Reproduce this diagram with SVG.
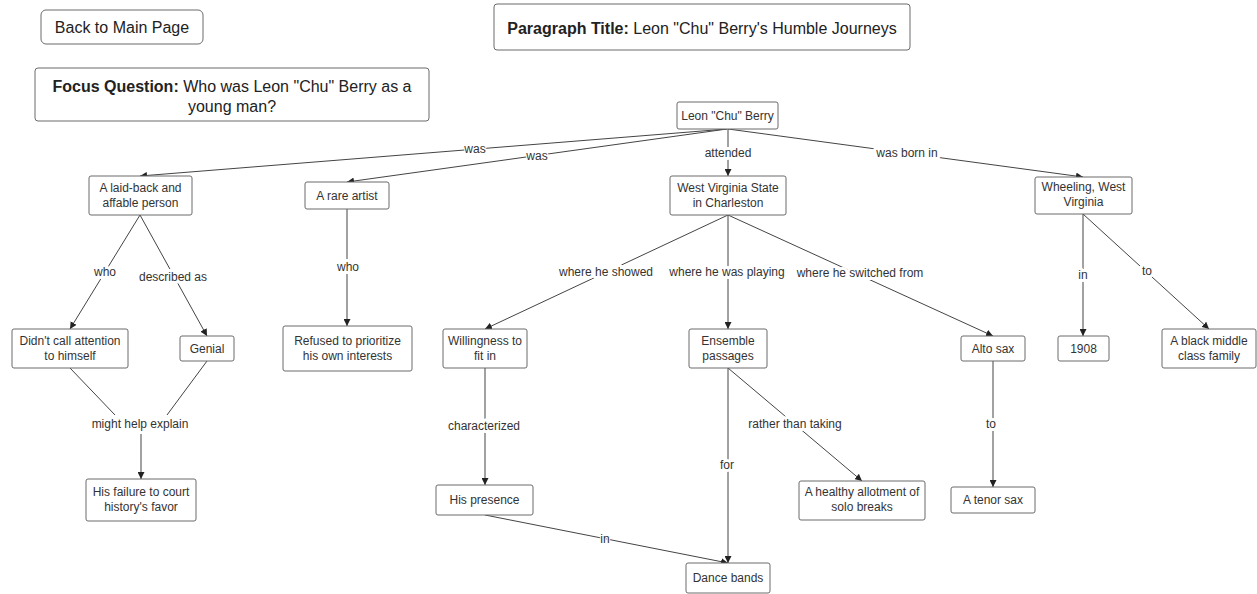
<svg xmlns="http://www.w3.org/2000/svg" width="1257" height="594" viewBox="0 0 1257 594">
  <style>
    .box { fill: #ffffff; stroke: #6b6b6b; stroke-width: 1; }
    .hdr { fill: #ffffff; stroke: #6b6b6b; stroke-width: 1; }
    .t { font-family: "Liberation Sans", Arial, sans-serif; font-size: 12px; fill: #333333; text-anchor: middle; }
    .h { font-family: "Liberation Sans", Arial, sans-serif; font-size: 16px; fill: #222222; text-anchor: middle; }
    .b { font-weight: bold; }
    .edge { fill: none; stroke: #444444; stroke-width: 1; }
    .arrow { fill: none; stroke: #444444; stroke-width: 1; marker-end: url(#head); }
    .lbl { font-family: "Liberation Sans", Arial, sans-serif; font-size: 12px; fill: #333333; text-anchor: middle;
           stroke: #ffffff; stroke-width: 6px; stroke-linejoin: round; paint-order: stroke; }
    .lbl-tight { stroke-width: 2px; }
  </style>
  <defs>
    <marker id="head" viewBox="0 0 8 8" refX="8" refY="4" markerWidth="7" markerHeight="7" markerUnits="userSpaceOnUse" orient="auto">
      <path d="M0,0 L8,4 L0,8 z" fill="#222222"/>
    </marker>
  </defs>

  <rect width="1257" height="594" fill="#ffffff"/>

  <!-- header panels -->
  <g id="back-link">
    <rect class="hdr" x="41" y="10" width="162" height="34" rx="5"/>
    <text class="h" x="122" y="33">Back to Main Page</text>
  </g>
  <g id="focus-question">
    <rect class="hdr" x="35" y="68" width="394" height="53" rx="3"/>
    <text class="h" x="232" y="92"><tspan class="b">Focus Question:</tspan> Who was Leon "Chu" Berry as a</text>
    <text class="h" x="232" y="112">young man?</text>
  </g>
  <g id="paragraph-title">
    <rect class="hdr" x="494" y="4" width="416" height="46" rx="3"/>
    <text class="h" x="702" y="34"><tspan class="b">Paragraph Title:</tspan> Leon "Chu" Berry's Humble Journeys</text>
  </g>

  <!-- connectors -->
  <g id="connectors">
    <line class="arrow" x1="727" y1="129" x2="140" y2="176"/>
    <line class="arrow" x1="727" y1="129" x2="347" y2="182"/>
    <line class="arrow" x1="728" y1="129" x2="728" y2="176"/>
    <line class="arrow" x1="728" y1="129" x2="1083" y2="177"/>

    <line class="arrow" x1="728" y1="215" x2="485" y2="329"/>
    <line class="arrow" x1="728" y1="215" x2="728" y2="329"/>
    <line class="arrow" x1="728" y1="215" x2="993" y2="336"/>

    <line class="arrow" x1="1083" y1="214" x2="1083" y2="336"/>
    <line class="arrow" x1="1083" y1="214" x2="1209" y2="329"/>

    <line class="arrow" x1="140" y1="215" x2="70" y2="329"/>
    <line class="arrow" x1="140" y1="215" x2="207" y2="336"/>
    <line class="arrow" x1="347" y1="209" x2="347" y2="326"/>

    <line class="edge" x1="70" y1="368" x2="115" y2="415"/>
    <line class="edge" x1="207" y1="361" x2="167" y2="415"/>
    <line class="arrow" x1="141" y1="434" x2="141" y2="479"/>

    <line class="arrow" x1="485" y1="368" x2="485" y2="485"/>
    <line class="arrow" x1="485" y1="515" x2="728" y2="563"/>
    <line class="arrow" x1="728" y1="368" x2="728" y2="563"/>
    <line class="arrow" x1="728" y1="368" x2="862" y2="481"/>
    <line class="arrow" x1="993" y1="361" x2="993" y2="487"/>

    <!-- linking phrases -->
    <text class="lbl lbl-tight" x="475" y="153">was</text>
    <text class="lbl lbl-tight" x="537" y="160">was</text>
    <text class="lbl" x="728" y="157">attended</text>
    <text class="lbl" x="907" y="157">was born in</text>
    <text class="lbl" x="606" y="276">where he showed</text>
    <text class="lbl" x="727" y="276">where he was playing</text>
    <text class="lbl" x="860" y="277">where he switched from</text>
    <text class="lbl" x="1083" y="279">in</text>
    <text class="lbl" x="1147" y="275">to</text>
    <text class="lbl" x="105" y="276">who</text>
    <text class="lbl" x="173" y="281">described as</text>
    <text class="lbl" x="348" y="271">who</text>
    <text class="lbl" x="140" y="428">might help explain</text>
    <text class="lbl" x="484" y="430">characterized</text>
    <text class="lbl lbl-tight" x="605" y="543">in</text>
    <text class="lbl" x="727" y="469">for</text>
    <text class="lbl" x="795" y="428">rather than taking</text>
    <text class="lbl" x="991" y="428">to</text>
  </g>

  <!-- concept nodes -->
  <g id="leon">
    <rect class="box" x="677" y="102" width="101" height="27" rx="2"/>
    <text class="t" x="727.5" y="120">Leon "Chu" Berry</text>
  </g>
  <g id="laid-back">
    <rect class="box" x="89" y="176" width="103" height="39" rx="2"/>
    <text class="t" x="140.5" y="192">A laid-back and</text>
    <text class="t" x="140.5" y="207">affable person</text>
  </g>
  <g id="rare-artist">
    <rect class="box" x="305" y="182" width="84" height="27" rx="2"/>
    <text class="t" x="347" y="200">A rare artist</text>
  </g>
  <g id="wv-state">
    <rect class="box" x="670" y="176" width="116" height="39" rx="2"/>
    <text class="t" x="728" y="192">West Virginia State</text>
    <text class="t" x="728" y="207">in Charleston</text>
  </g>
  <g id="wheeling">
    <rect class="box" x="1035" y="177" width="97" height="37" rx="2"/>
    <text class="t" x="1083.5" y="191">Wheeling, West</text>
    <text class="t" x="1083.5" y="206">Virginia</text>
  </g>
  <g id="no-attention">
    <rect class="box" x="12" y="329" width="116" height="39" rx="2"/>
    <text class="t" x="70" y="345">Didn't call attention</text>
    <text class="t" x="70" y="360">to himself</text>
  </g>
  <g id="genial">
    <rect class="box" x="180" y="336" width="54" height="25" rx="2"/>
    <text class="t" x="207" y="353">Genial</text>
  </g>
  <g id="refused">
    <rect class="box" x="283" y="326" width="129" height="45" rx="2"/>
    <text class="t" x="347.5" y="345">Refused to prioritize</text>
    <text class="t" x="347.5" y="360">his own interests</text>
  </g>
  <g id="willingness">
    <rect class="box" x="443" y="329" width="84" height="39" rx="2"/>
    <text class="t" x="485" y="345">Willingness to</text>
    <text class="t" x="485" y="360">fit in</text>
  </g>
  <g id="ensemble">
    <rect class="box" x="689" y="329" width="78" height="39" rx="2"/>
    <text class="t" x="728" y="345">Ensemble</text>
    <text class="t" x="728" y="360">passages</text>
  </g>
  <g id="alto-sax">
    <rect class="box" x="961" y="336" width="64" height="25" rx="2"/>
    <text class="t" x="993" y="353">Alto sax</text>
  </g>
  <g id="year-1908">
    <rect class="box" x="1058" y="336" width="51" height="25" rx="2"/>
    <text class="t" x="1083.5" y="353">1908</text>
  </g>
  <g id="family">
    <rect class="box" x="1162" y="329" width="94" height="39" rx="2"/>
    <text class="t" x="1209" y="345">A black middle</text>
    <text class="t" x="1209" y="360">class family</text>
  </g>
  <g id="failure">
    <rect class="box" x="86" y="479" width="110" height="42" rx="2"/>
    <text class="t" x="141" y="496">His failure to court</text>
    <text class="t" x="141" y="511">history's favor</text>
  </g>
  <g id="presence">
    <rect class="box" x="436" y="485" width="97" height="30" rx="2"/>
    <text class="t" x="484.5" y="504">His presence</text>
  </g>
  <g id="dance-bands">
    <rect class="box" x="686" y="563" width="84" height="30" rx="2"/>
    <text class="t" x="728" y="582">Dance bands</text>
  </g>
  <g id="solo-breaks">
    <rect class="box" x="799" y="481" width="126" height="39" rx="2"/>
    <text class="t" x="862" y="496">A healthy allotment of</text>
    <text class="t" x="862" y="511">solo breaks</text>
  </g>
  <g id="tenor-sax">
    <rect class="box" x="951" y="487" width="84" height="26" rx="2"/>
    <text class="t" x="993" y="504">A tenor sax</text>
  </g>
</svg>
